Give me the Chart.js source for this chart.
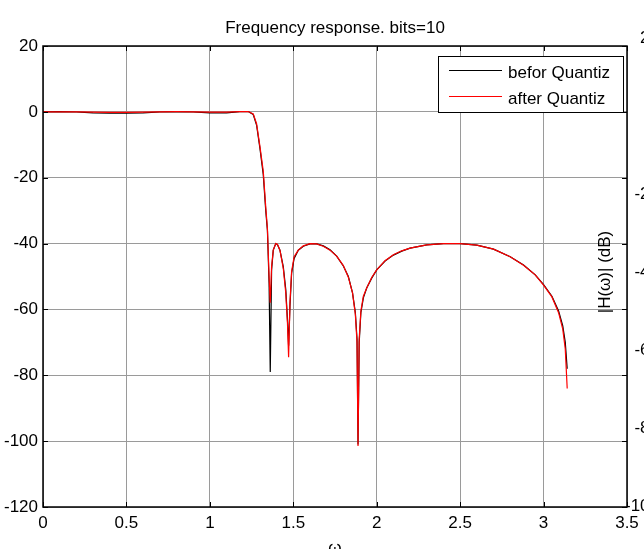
<!DOCTYPE html>
<html>
<head>
<meta charset="utf-8">
<script src="https://cdn.jsdelivr.net/npm/chart.js@4.4.0/dist/chart.umd.min.js"></script>
<style>
  html, body { margin: 0; padding: 0; background: #fff; }
  #wrap { width: 644px; height: 549px; overflow: hidden; }
  canvas { display: block; }
</style>
</head>
<body>
<div id="wrap"><canvas id="freqChart" width="659" height="560"></canvas></div>
<script>
// frequency (rad/sample) and magnitude (dB)
const omega = [
  0.00, 0.10, 0.20, 0.30, 0.40, 0.50, 0.60, 0.70, 0.80, 0.90,
  1.00, 1.10, 1.18, 1.23, 1.26, 1.28, 1.30, 1.32, 1.335, 1.345,
  1.355, 1.362, 1.370, 1.380, 1.395, 1.405, 1.42, 1.44, 1.455, 1.465,
  1.472, 1.480, 1.490, 1.505, 1.53, 1.56, 1.60, 1.64, 1.68, 1.72,
  1.76, 1.80, 1.83, 1.855, 1.872, 1.882, 1.888, 1.895, 1.905, 1.92,
  1.94, 1.97, 2.00, 2.05, 2.10, 2.15, 2.20, 2.30, 2.40, 2.50,
  2.60, 2.70, 2.80, 2.88, 2.95, 3.00, 3.05, 3.09, 3.115, 3.13, 3.1416
];
const magBefore = [
  0.0, 0.05, -0.05, -0.3, -0.4, -0.4, -0.3, -0.05, 0.05, -0.05,
  -0.3, -0.3, 0.05, 0.1, -0.8, -4, -11, -19, -30, -36,
  -52, -79, -48, -42, -40, -40.3, -42, -47, -54, -63,
  -71, -59, -49, -44.5, -42, -40.8, -40.1, -40.1, -40.7, -41.9,
  -43.8, -46.8, -50, -55, -61, -69, -101, -70, -61, -56.5,
  -53.5, -50.5, -48, -45.3, -43.5, -42.3, -41.4, -40.4, -40, -40,
  -40.5, -41.7, -44, -46.5, -49.5, -52.5, -56, -60.5, -65, -70, -78
];
const magAfter = [
  0.0, 0.02, 0.0, -0.1, -0.15, -0.15, -0.1, 0.0, 0.05, 0.0,
  -0.1, -0.1, 0.05, 0.1, -0.6, -3.6, -10.5, -18, -29, -35.5,
  -50, -58, -47, -42, -40, -40.2, -42, -47.5, -55, -64,
  -74.5, -58, -48.5, -44, -42, -40.7, -40, -40.1, -40.8, -42,
  -43.8, -46.7, -50.2, -55, -61.5, -70, -101.5, -69, -60.5, -56,
  -53.5, -50.3, -48, -45.2, -43.4, -42.2, -41.4, -40.4, -40, -40,
  -40.5, -41.7, -44, -46.6, -49.5, -52.6, -56.2, -61, -66, -72, -84
];

const xTicks = [0, 0.5, 1, 1.5, 2, 2.5, 3, 3.5];
const yTicks = [20, 0, -20, -40, -60, -80, -100, -120];
// tick labels of the second (cut off) axes on the right
const rightTicks = [20, -20, -40, -60, -80, -100];

const FONT = "'Liberation Sans', Arial, sans-serif";

function toPoints(ys) {
  return omega.map((w, i) => ({ x: w, y: ys[i] }));
}

// frame, inward tick marks, legend box and the right ylabel
const matlabAxes = {
  id: "matlabAxes",
  beforeDraw(chart) {
    const ctx = chart.ctx;
    ctx.save();
    ctx.fillStyle = "#fff";
    ctx.fillRect(0, 0, chart.width, chart.height);
    ctx.restore();
  },
  afterDatasetsDraw(chart) {
    const { ctx, chartArea: a, scales } = chart;
    ctx.save();
    ctx.strokeStyle = "#000";
    ctx.lineWidth = 1;
    ctx.beginPath();
    xTicks.forEach(v => {
      const px = Math.round(scales.x.getPixelForValue(v)) + 0.5;
      ctx.moveTo(px, a.bottom); ctx.lineTo(px, a.bottom - 5);
      ctx.moveTo(px, a.top); ctx.lineTo(px, a.top + 5);
    });
    yTicks.forEach(v => {
      const py = Math.round(scales.y.getPixelForValue(v)) + 0.5;
      ctx.moveTo(a.left, py); ctx.lineTo(a.left + 5, py);
      ctx.moveTo(a.right, py); ctx.lineTo(a.right - 5, py);
    });
    ctx.stroke();

    ctx.lineWidth = 1.5;
    ctx.strokeRect(a.left, a.top, a.right - a.left, a.bottom - a.top);

    // legend
    const bx = a.right - 189, by = a.top + 10, bw = 185, bh = 56;
    ctx.fillStyle = "#fff";
    ctx.fillRect(bx, by, bw, bh);
    ctx.lineWidth = 1;
    ctx.strokeRect(bx + 0.5, by + 0.5, bw, bh);
    ctx.font = "17px " + FONT;
    ctx.textBaseline = "alphabetic";
    ctx.textAlign = "left";
    chart.data.datasets.forEach((ds, i) => {
      const ly = by + 14 + i * 26;
      ctx.strokeStyle = ds.borderColor;
      ctx.beginPath();
      ctx.moveTo(bx + 11, ly + 0.5);
      ctx.lineTo(bx + 64, ly + 0.5);
      ctx.stroke();
      ctx.fillStyle = "#000";
      ctx.fillText(ds.label, bx + 70, ly + 8);
    });

    // ylabel of the right axes
    const yc = (scales.y2.getPixelForValue(20) + scales.y2.getPixelForValue(-100)) / 2;
    ctx.translate(a.right - 22, yc);
    ctx.rotate(-Math.PI / 2);
    ctx.textAlign = "center";
    ctx.textBaseline = "middle";
    ctx.fillText("|H(\u03c9)| (dB)", 0, 0);
    ctx.restore();
  }
};

const tickFont = { family: FONT, size: 17 };
const plainLabel = v => String(v);

new Chart(document.getElementById("freqChart"), {
  type: "line",
  data: {
    datasets: [
      {
        label: "befor Quantiz",
        data: toPoints(magBefore),
        borderColor: "#000000",
        borderWidth: 1.2,
        pointRadius: 0,
        order: 2
      },
      {
        label: "after Quantiz",
        data: toPoints(magAfter),
        borderColor: "#ff0000",
        borderWidth: 1.2,
        pointRadius: 0,
        order: 1
      }
    ]
  },
  options: {
    responsive: false,
    animation: false,
    layout: { padding: 0 },
    plugins: {
      legend: { display: false },
      tooltip: { enabled: false },
      title: {
        display: true,
        fullSize: false,
        text: "Frequency response. bits=10",
        color: "#000",
        font: { family: FONT, size: 17, weight: "normal" },
        padding: { top: 18, bottom: 7.6 }
      }
    },
    scales: {
      x: {
        type: "linear",
        min: 0,
        max: 3.5,
        afterBuildTicks: s => { s.ticks = xTicks.map(v => ({ value: v })); },
        afterFit: s => { s.height = 53; },
        ticks: { color: "#000", font: tickFont, padding: 6, maxRotation: 0, autoSkip: false, callback: plainLabel },
        grid: { color: "#9a9a9a", drawTicks: false },
        border: { display: false },
        title: { display: true, text: "\u03c9", color: "#000", font: tickFont, padding: { top: 0, bottom: 1 } }
      },
      y: {
        min: -120,
        max: 20,
        afterBuildTicks: s => { s.ticks = yTicks.map(v => ({ value: v })); },
        afterFit: s => { s.width = 43; },
        ticks: { color: "#000", font: tickFont, padding: 5, autoSkip: false, callback: plainLabel },
        grid: { color: "#9a9a9a", drawTicks: false },
        border: { display: false }
      },
      y2: {
        position: "right",
        min: -100.26,
        max: 17.95,
        bounds: "data",
        afterBuildTicks: s => { s.ticks = rightTicks.map(v => ({ value: v })); },
        afterFit: s => { s.width = 32; },
        ticks: { color: "#000", font: tickFont, padding: 0, crossAlign: "far", autoSkip: false, callback: plainLabel },
        grid: { display: false, drawTicks: false },
        border: { display: false }
      }
    }
  },
  plugins: [matlabAxes]
});
</script>
</body>
</html>
